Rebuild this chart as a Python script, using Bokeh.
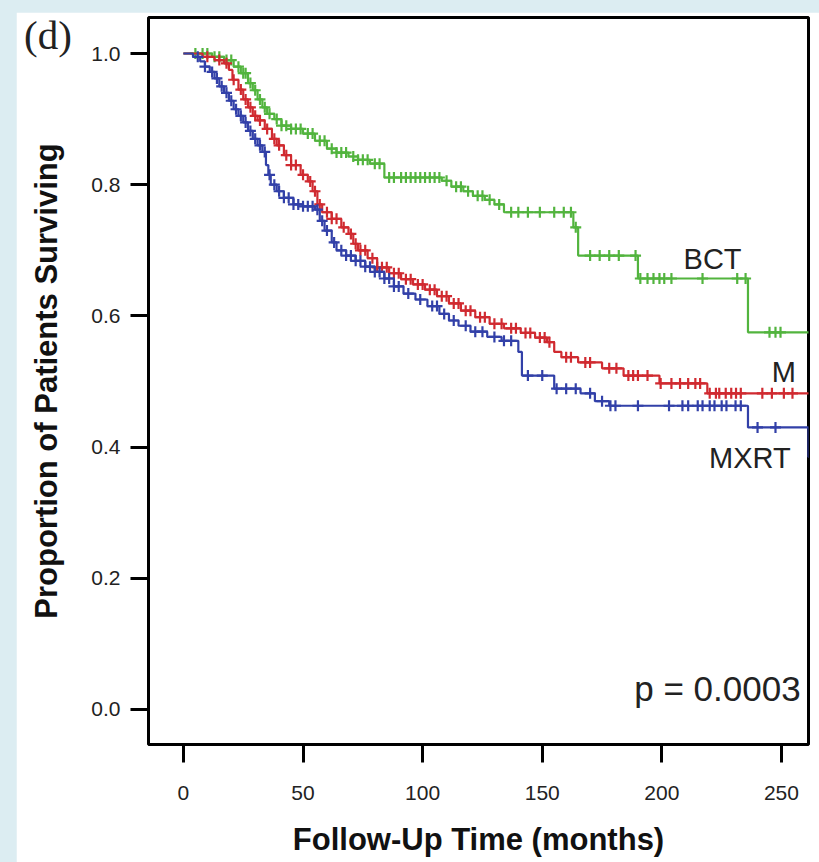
import numpy as np
from bokeh.plotting import figure
from bokeh.models import Range1d, Label, FixedTicker, Div
from bokeh.layouts import column
from bokeh.embed import file_html
from bokeh.resources import INLINE

# ---------------- data ----------------
x_ticks = [0, 50, 100, 150, 200, 250]
y_ticks = [0.0, 0.2, 0.4, 0.6, 0.8, 1.0]
y_tick_labels = ["0.0", "0.2", "0.4", "0.6", "0.8", "1.0"]

# BCT (green) Kaplan-Meier steps
bct_time = [0, 12, 17, 21, 24, 27, 29, 31, 33, 35, 38, 41, 45, 50, 55, 60, 64, 69, 73, 78,
            84, 108, 112, 117, 121, 126, 130, 134, 163, 165, 190, 236, 265]
bct_surv = [1.0, 0.995, 0.99, 0.98, 0.97, 0.955, 0.944, 0.93, 0.918, 0.908, 0.9, 0.89, 0.885,
            0.878, 0.867, 0.855, 0.849, 0.843, 0.838, 0.832, 0.811, 0.806, 0.797, 0.79, 0.783,
            0.777, 0.77, 0.758, 0.735, 0.692, 0.657, 0.575, 0.575]
bct_cens = [5, 8, 10, 13, 15, 18, 20, 23, 25, 26, 28, 30, 32, 34, 36, 39, 41, 43, 45, 47, 49,
            52, 54, 57, 59, 62, 64, 66, 68, 71, 73, 75, 77, 80, 82, 86, 88, 91, 93, 95, 97, 99,
            101, 103, 105, 107, 110, 114, 116, 119, 123, 125, 128, 132, 137, 140, 144, 149,
            155, 159, 162, 164, 170, 174, 178, 182, 189, 191, 194, 196.5, 199, 201, 204, 217,
            231.5, 235, 245, 247.5, 249.6]

# M (red)
m_time = [0, 8, 13, 17, 19, 20.5, 23, 25, 27, 29, 31, 34, 37, 39, 42, 45, 49, 52, 54, 56,
          58, 62, 66, 69, 71, 73, 77, 81, 86, 91, 96, 101, 106, 111, 116, 122, 128, 134, 141,
          147, 152, 155, 158, 165, 175, 184, 199, 219, 265]
m_surv = [1.0, 0.995, 0.99, 0.985, 0.975, 0.96, 0.945, 0.93, 0.918, 0.905, 0.898, 0.885, 0.87,
          0.86, 0.845, 0.83, 0.815, 0.805, 0.79, 0.77, 0.758, 0.748, 0.735, 0.725, 0.71, 0.70,
          0.688, 0.674, 0.665, 0.656, 0.648, 0.64, 0.63, 0.619, 0.608, 0.598, 0.588, 0.581,
          0.574, 0.567, 0.56, 0.545, 0.537, 0.529, 0.52, 0.509, 0.497, 0.482, 0.482]
m_cens = [10, 15, 18, 21, 24, 26, 28, 30, 32, 35, 38, 40, 43, 45, 47, 50, 53, 55, 57, 60, 62,
          64, 67, 70, 72, 74, 76, 79, 81, 83, 85, 88, 90, 93, 95, 98, 100, 103, 105, 108, 110,
          113, 115, 118, 120, 124, 126, 130, 133, 137, 139, 143, 145, 149, 151, 153, 160, 162,
          168, 170, 178, 181, 186, 188, 190, 194, 199.5, 204, 207.6, 211, 214, 216, 220,
          222.6, 224, 226.7, 229, 231, 233, 242, 246, 251, 254.6]

# MXRT (blue)
mxrt_time = [0, 4, 7, 9, 11, 13, 15, 17, 19, 21, 23, 25, 27, 29, 31, 33, 34.5, 35.5, 36.5, 39,
             42, 46, 50, 55, 57, 59, 62, 64, 68, 72, 76, 80, 84, 88, 92, 97, 102, 107, 111, 115,
             120, 127, 133, 140, 141.5, 155, 166, 172, 178, 236, 261.3, 265]
mxrt_surv = [1.0, 0.995, 0.988, 0.98, 0.972, 0.962, 0.95, 0.94, 0.928, 0.915, 0.905, 0.895,
             0.882, 0.87, 0.86, 0.85, 0.83, 0.815, 0.80, 0.79, 0.78, 0.77, 0.767, 0.762, 0.745,
             0.73, 0.712, 0.70, 0.692, 0.684, 0.675, 0.667, 0.657, 0.645, 0.634, 0.625, 0.615,
             0.603, 0.593, 0.585, 0.576, 0.568, 0.562, 0.545, 0.509, 0.489, 0.482, 0.47, 0.463,
             0.43, 0.385, 0.385]
mxrt_cens = [6, 9, 12, 14, 16, 18, 20, 22, 24, 26, 28, 30, 32, 34, 36, 38, 40, 42, 44, 46, 48,
             50, 52, 54, 56, 58, 60, 63, 66, 68, 70, 72, 74, 76, 78, 80, 82, 84, 86, 88, 90, 94,
             99, 104, 106, 109, 113, 118, 122, 125, 130, 134, 137, 144, 150, 156, 160, 164, 170,
             175, 178.5, 180.6, 190, 203, 208.6, 211, 215, 217, 220, 222, 225, 227, 230.8, 233,
             240, 247.5]

series_names = ["BCT", "M", "MXRT"]
series_colors = ["#52b43e", "#d02a30", "#3240a8"]
p_value_text = "p = 0.0003"
panel_text = "(d)"

# ---------------- figure ----------------
p = figure(width=803, height=850, output_backend="svg", toolbar_location=None,
           x_range=Range1d(-14.6, 261.3), y_range=Range1d(-0.0534, 1.0549),
           min_border_left=132, min_border_right=11, min_border_top=5, min_border_bottom=118,
           margin=(12, 0, 0, 16))
p.background_fill_color = "white"
p.border_fill_color = "white"
p.outline_line_color = "black"
p.outline_line_width = 3
p.xgrid.visible = False
p.ygrid.visible = False

p.xaxis.ticker = FixedTicker(ticks=x_ticks)
p.yaxis.ticker = FixedTicker(ticks=y_ticks)
p.yaxis.major_label_overrides = {t: l for t, l in zip(y_ticks, y_tick_labels)}
for ax in (p.xaxis, p.yaxis):
    ax.axis_line_color = None
    ax.major_tick_out = 18
    ax.major_tick_in = 0
    ax.major_tick_line_color = "black"
    ax.major_tick_line_width = 3
    ax.minor_tick_line_color = None
    ax.major_label_text_font = "Liberation Sans"
    ax.major_label_text_font_size = "21px"
    ax.major_label_text_color = "#222222"
    ax.axis_label_text_font = "Liberation Sans"
    ax.axis_label_text_font_size = "31px"
    ax.axis_label_text_font_style = "bold"
    ax.axis_label_text_color = "#111111"

p.xaxis.axis_label = "Follow-Up Time (months)"
p.yaxis.axis_label = "Proportion of Patients Surviving"
p.xaxis.major_label_standoff = 23
p.yaxis.major_label_standoff = 10
p.xaxis.axis_label_standoff = 19
p.yaxis.axis_label_standoff = 24


def censor_y(times, surv, cens):
    t = np.asarray(times, dtype=float)
    s = np.asarray(surv, dtype=float)
    idx = np.searchsorted(t, np.asarray(cens, dtype=float), side="right") - 1
    return s[idx]


curves = [(bct_time, bct_surv, bct_cens), (m_time, m_surv, m_cens),
          (mxrt_time, mxrt_surv, mxrt_cens)]
for (tt, ss, cc), name, col in zip(curves, series_names, series_colors):
    p.step(tt, ss, mode="after", line_color=col, line_width=2.2)
    p.scatter(cc, censor_y(tt, ss, cc), marker="cross", size=11, line_color=col,
              line_width=2.2)

# curve labels
label_x = [221.2, 251.0, 236.8]
label_y = [0.686, 0.514, 0.383]
for name, lx, ly in zip(series_names, label_x, label_y):
    p.add_layout(Label(x=lx, y=ly, text=name, text_align="center", text_baseline="middle",
                       text_font="Liberation Sans", text_font_size="29px",
                       text_color="#222222"))

p.add_layout(Label(x=258.0, y=0.032, text=p_value_text, text_align="right",
                   text_baseline="middle", text_font="Liberation Sans",
                   text_font_size="35px", text_color="#222222"))

# panel letter: annotations are clipped to the frame, so overlay it as positioned text
panel_div = Div(text=panel_text, width=64, height=46,
                styles={"position": "absolute", "left": "19px", "top": "8px",
                        "z-index": "10", "font-family": "Liberation Serif",
                        "font-size": "41px", "line-height": "44px", "color": "#222222"})

layout = column(p, panel_div, styles={"background-color": "#dcedf2",
                                      "position": "relative"})
open("out.html", "w").write(file_html(layout, INLINE))
